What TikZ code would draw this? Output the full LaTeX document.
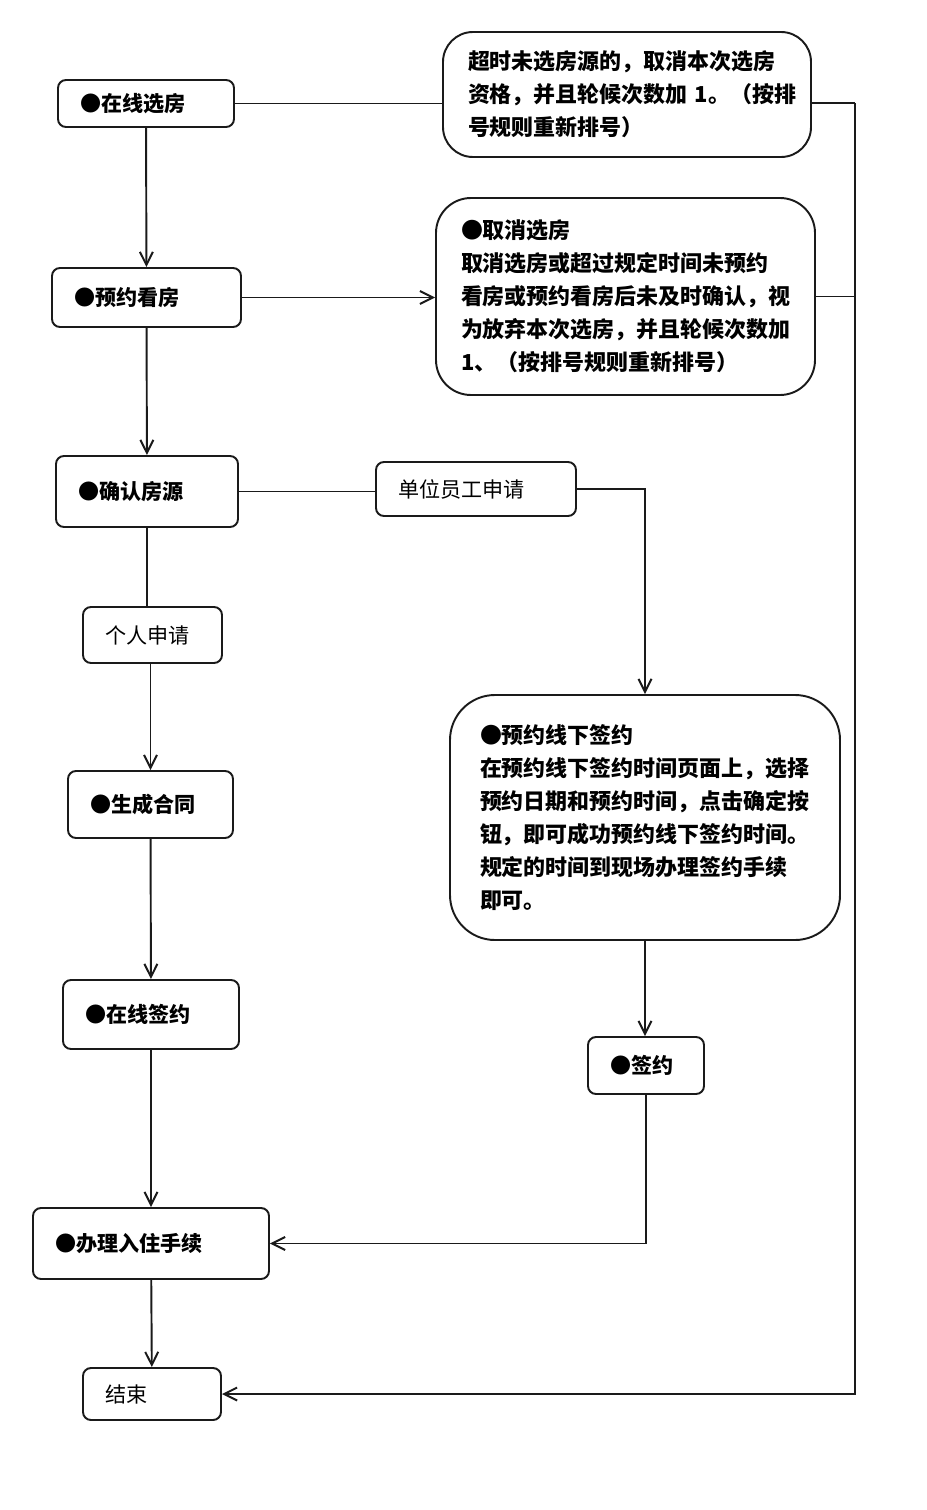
\documentclass[tikz,border=0pt]{standalone}
\usepackage{fontspec}
\setmainfont{Noto Sans CJK SC}
\usetikzlibrary{arrows.meta}
\definecolor{LineBlack}{HTML}{1A1A1A}
\tikzset{
  smallbox/.style={draw=LineBlack, line width=1.1pt, rounded corners=0.16cm,
    inner xsep=0.44cm, inner ysep=0pt, align=left,
    font=\fontsize{12}{14}\selectfont},
  keybox/.style={smallbox, font=\bfseries\fontsize{12}{14}\selectfont},
  bigbox/.style={draw=LineBlack, line width=1.1pt, rounded corners=0.6cm,
    inner xsep=0.5cm, inner ysep=0pt, align=left,
    font=\bfseries\fontsize{12.5}{18.8}\selectfont},
  plain/.style={draw=LineBlack, line width=1.1pt},
  flow/.style={plain, -{Straight Barb[length=2.6mm,width=2.6mm]}},
}

\begin{document}
\begin{tikzpicture}
    \useasboundingbox (0,0) rectangle (18.52,-30.2);
    % Main column
    \node[keybox, text width=2.64cm, minimum height=0.94cm] (online) at (2.92,-2.07) {●在线选房};
    \node[keybox, text width=2.90cm, minimum height=1.18cm] (viewing) at (2.93,-5.95) {●预约看房};
    \node[keybox, text width=2.76cm, minimum height=1.42cm] (confirm) at (2.94,-9.83) {●确认房源};
    \node[smallbox, text width=1.90cm, minimum height=1.12cm] (personal) at (3.05,-12.70) {个人申请};
    \node[keybox, text width=2.42cm, minimum height=1.34cm] (contract) at (3.01,-16.09) {●生成合同};
    \node[keybox, text width=2.64cm, minimum height=1.38cm] (onlinesign) at (3.02,-20.29) {●在线签约};
    \node[keybox, text width=3.84cm, minimum height=1.42cm] (checkin) at (3.02,-24.87) {●办理入住手续};
    \node[smallbox, text width=1.88cm, minimum height=1.04cm] (end) at (3.04,-27.88) {结束};
    % Right column
    \node[bigbox, text width=6.36cm, minimum height=2.5cm] (timeout) at (12.54,-1.89)
      {超时未选房源的，取消本次选房\\资格，并且轮候次数加~1。（按排\\号规则重新排号）};
    \node[bigbox, rounded corners=0.7cm, text width=6.58cm, minimum height=3.94cm] (cancel) at (12.51,-5.93)
      {●取消选房\\取消选房或超过规定时间未预约\\看房或预约看房后未及时确认，视\\为放弃本次选房，并且轮候次数加\\1、（按排号规则重新排号）};
    \node[smallbox, text width=3.12cm, minimum height=1.08cm] (unit) at (9.52,-9.78) {单位员工申请};
    \node[bigbox, rounded corners=0.9cm, inner xsep=0.6cm, text width=6.6cm, minimum height=4.9cm] (offline) at (12.9,-16.35)
      {●预约线下签约\\在预约线下签约时间页面上，选择\\预约日期和预约时间，点击确定按\\钮，即可成功预约线下签约时间。\\规定的时间到现场办理签约手续\\即可。};
    \node[keybox, text width=1.44cm, minimum height=1.14cm] (sign) at (12.92,-21.31) {●签约};
    \coordinate (loop) at (17.1,-2.06);
    % Connectors
    \draw[flow] (online) -- (viewing);
    \draw[flow] (viewing) -- (confirm);
    \draw[plain] (confirm.south) -- (confirm.south |- personal.north);
    \draw[flow] (contract.north |- personal.south) -- (contract.north);
    \draw[flow] (contract) -- (onlinesign);
    \draw[flow] (onlinesign) -- (checkin);
    \draw[flow] (checkin) -- (end);
    \draw[plain] (online.east) -- (online.east -| timeout.west);
    \draw[plain] (timeout.east |- loop) -- (loop);
    \draw[flow] (loop) |- (end.east);
    \draw[flow] (viewing.east) -- (viewing.east -| cancel.west);
    \draw[plain] (cancel.east) -- (cancel.east -| loop);
    \draw[plain] (confirm.east) -- (confirm.east -| unit.west);
    \draw[flow] (unit.east) -| (offline.north);
    \draw[flow] (offline.south) -- (offline.south |- sign.north);
    \draw[flow] (sign.south) |- (checkin.east);
\end{tikzpicture}
\end{document}
